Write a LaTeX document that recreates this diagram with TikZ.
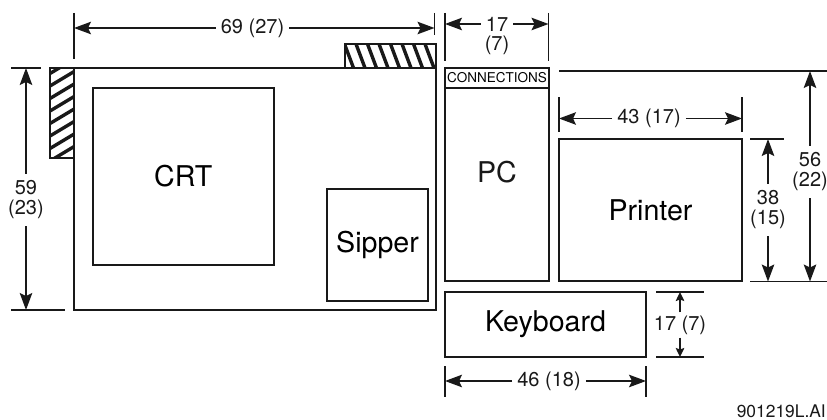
\documentclass[tikz,border=0pt]{standalone}
\usepackage{fontspec}
\setmainfont{TeX Gyre Heros}
\usetikzlibrary{arrows.meta}
\tikzset{
	unitbox/.style={draw=black!90, line width=2pt, inner sep=0pt, outer sep=0pt, font=\fontsize{28.6}{30}\selectfont},
	dimtext/.style={text=black!90, inner sep=5pt, font=\fontsize{20}{20}\selectfont},
	dimstack/.style={dimtext, align=center, inner sep=7pt},
	dimline/.style={draw=black!90, line width=1.8pt},
	dimarrow/.style={dimline, -{Stealth[length=17pt,width=12.5pt,inset=3pt]}},
	smallarrow/.style={dimline, -{Stealth[length=9pt,width=8.5pt,inset=1.5pt]}},
	hatchbox/.style={draw=black!90, line width=2.4pt}
}
\begin{document}
\begin{tikzpicture}[x=1pt,y=-1pt]
	\useasboundingbox (0,0) rectangle (827,420);
	%hatched parts
	\begin{scope}
		\clip (50,68) rectangle (73.5,158);
		\foreach \y in {52,64.5,...,190}
			\draw [line width=3.4pt,black!90] (45,\y+12) -- (80,\y-9);
	\end{scope}
	\begin{scope}
		\clip (345,44) rectangle (436,68);
		\foreach \x in {320,331.5,...,450}
			\draw [line width=3.4pt,black!90] (\x,40) -- (\x+12,72);
	\end{scope}
	\draw [hatchbox] (73.5,68) -- (50,68) -- (50,158) -- (73.5,158);
	\draw [hatchbox] (345,68) -- (345,44) -- (436,44) -- (436,68);
	%boxes
	\node [unitbox, minimum width=362.5pt, minimum height=242pt] (console) at (254.75,189) {};
	\node [unitbox, minimum width=181.5pt, minimum height=177pt] (crt) at (183.25,176.5) {CRT};
	\node [unitbox, minimum width=101pt, minimum height=112pt] (sipper) at (377.5,245) {Sipper};
	\node [unitbox, minimum width=104pt, minimum height=213pt] (pc) at (497,174.5) {};
	\node [unitbox, minimum width=104pt, minimum height=20pt, font=\fontsize{13.5}{15}\selectfont] (connections) at (497,78) {CONNECTIONS};
	\node at (497,172) [font=\fontsize{28.6}{30}\selectfont, text=black!90] (pclabel) {PC};
	\node [unitbox, minimum width=183pt, minimum height=142pt] (printer) at (650.5,210) {Printer};
	\node [unitbox, minimum width=201pt, minimum height=65pt] (keyboard) at (545.5,324.5) {Keyboard};
	%69 (27)
	\node [dimtext] (consolewidth) at (252.5,28) {69 (27)};
	\coordinate (consolewidthl) at (74,28);
	\coordinate (consolewidthr) at (434.5,28);
	\draw [dimline] (74,13) -- (74,59);
	\draw [dimline] (434.5,13) -- (434.5,35);
	\draw [dimarrow] (consolewidth) -- (consolewidthl);
	\draw [dimarrow] (consolewidth) -- (consolewidthr);
	%59 (23)
	\node [dimstack] (consoleheight) at (26,200) {59\\(23)};
	\coordinate (consoleheightt) at (26,68);
	\coordinate (consoleheightb) at (26,310);
	\draw [dimline] (11,68) -- (41,68);
	\draw [dimline] (11,310) -- (65,310);
	\draw [dimarrow] (consoleheight) -- (consoleheightt);
	\draw [dimarrow] (consoleheight) -- (consoleheightb);
	%17 (7) top
	\node [dimtext] (pcwidth) at (497,24) {17};
	\node [dimtext] (pcwidthb) at (497,45) {(7)};
	\coordinate (pcwidthl) at (445,24);
	\coordinate (pcwidthr) at (548.5,24);
	\draw [dimline] (445,13) -- (445,61);
	\draw [dimline] (548.5,13) -- (548.5,61);
	\draw [dimarrow] (pcwidth) -- (pcwidthl);
	\draw [dimarrow] (pcwidth) -- (pcwidthr);
	%43 (17)
	\node [dimtext] (printerwidth) at (649,118.5) {43 (17)};
	\coordinate (printerwidthl) at (559,118.5);
	\coordinate (printerwidthr) at (742,118.5);
	\draw [dimline] (559,97) -- (559,132);
	\draw [dimline] (742,97) -- (742,132);
	\draw [dimarrow] (printerwidth) -- (printerwidthl);
	\draw [dimarrow] (printerwidth) -- (printerwidthr);
	%38 (15)
	\node [dimstack] (printerheight) at (768,210) {38\\(15)};
	\coordinate (printerheightt) at (768,139);
	\coordinate (printerheightb) at (768,281.5);
	\draw [dimline] (750,139) -- (784,139);
	\draw [dimarrow] (printerheight) -- (printerheightt);
	\draw [dimarrow] (printerheight) -- (printerheightb);
	%56 (22)
	\node [dimstack] (pcheight) at (810,172) {56\\(22)};
	\coordinate (pcheightt) at (810,71);
	\coordinate (pcheightb) at (810,281.5);
	\draw [dimline] (559,71) -- (827,71);
	\draw [dimline] (750,281.5) -- (827,281.5);
	\draw [dimarrow] (pcheight) -- (pcheightt);
	\draw [dimarrow] (pcheight) -- (pcheightb);
	%17 (7) keyboard
	\node [dimtext, inner sep=3pt] (keyboardheight) at (680,325) {17 (7)};
	\coordinate (keyboardheightt) at (680,292);
	\coordinate (keyboardheightb) at (680,357);
	\draw [dimline] (656,292) -- (704,292);
	\draw [dimline] (656,357) -- (704,357);
	\draw [smallarrow] (keyboardheight) -- (keyboardheightt);
	\draw [smallarrow] (keyboardheight) -- (keyboardheightb);
	%46 (18)
	\node [dimtext] (keyboardwidth) at (549,381) {46 (18)};
	\coordinate (keyboardwidthl) at (445,381);
	\coordinate (keyboardwidthr) at (646,381);
	\draw [dimline] (445,366) -- (445,397);
	\draw [dimline] (646,366) -- (646,397);
	\draw [dimarrow] (keyboardwidth) -- (keyboardwidthl);
	\draw [dimarrow] (keyboardwidth) -- (keyboardwidthr);
	%drawing number
	\node at (826,411) [anchor=east, inner sep=0pt, text=black!90, font=\fontsize{17.4}{19}\selectfont] (drawingno) {901219L.AI};
\end{tikzpicture}
\end{document}
